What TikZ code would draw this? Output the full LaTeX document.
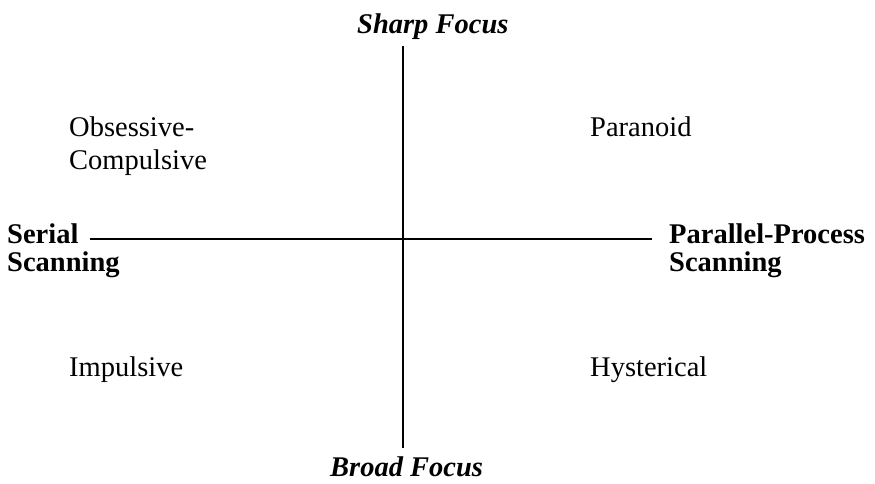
\documentclass[tikz,border=0pt]{standalone}
\usepackage{fontspec}
\setmainfont{Liberation Serif}
\begin{document}
\begin{tikzpicture}[x=1pt,y=-1pt,
  lbl/.style={anchor=base west,inner sep=0pt,font=\fontsize{28.5}{33}\selectfont},
  axislbl/.style={lbl,font=\fontsize{28.5}{33}\selectfont\bfseries\itshape},
  sidelbl/.style={lbl,font=\fontsize{28.5}{33}\selectfont\bfseries},
  axis/.style={line width=1.8pt,black}]
\useasboundingbox[fill=white] (0,0) rectangle (875,483);
\coordinate (top) at (403,46);
\coordinate (bot) at (403,448);
\coordinate (lft) at (90,239);
\coordinate (rgt) at (652,239);
\draw[axis] (top) -- (bot);
\draw[axis] (lft) -- (rgt);
\node[axislbl] (sharp) at (357,33) {Sharp Focus};
\node[axislbl] (broad) at (330,476) {Broad Focus};
\node[sidelbl] (serial) at (7,243) {Serial};
\node[sidelbl] (serial2) at (7,271) {Scanning};
\node[sidelbl] (par) at (669,243) {Parallel-Process};
\node[sidelbl] (par2) at (669,271) {Scanning};
\node[lbl] (obs) at (69,136) {Obsessive-};
\node[lbl] (comp) at (69,169) {Compulsive};
\node[lbl] (para) at (590,136) {Paranoid};
\node[lbl] (imp) at (69,376) {Impulsive};
\node[lbl] (hys) at (590,376) {Hysterical};
\end{tikzpicture}
\end{document}
